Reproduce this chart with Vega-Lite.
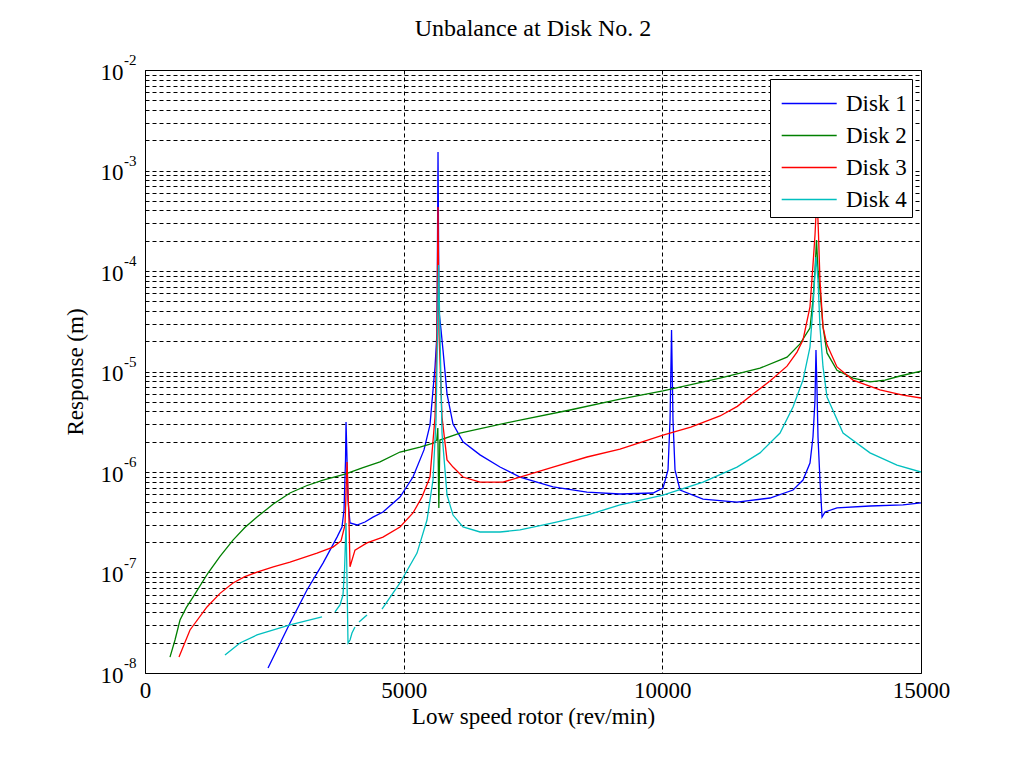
{
  "$schema": "https://vega.github.io/schema/vega-lite/v6.json",
  "width": 776,
  "height": 603,
  "autosize": {"type": "none"},
  "padding": {"left": 145, "top": 70, "right": 109, "bottom": 89},
  "background": "white",
  "title": {"text": "Unbalance at Disk No. 2", "font": "Liberation Serif", "fontSize": 24, "fontWeight": "normal", "color": "black", "anchor": "middle", "offset": 12},
  "config": {"view": {"stroke": "black", "strokeWidth": 1}, "font": "Liberation Serif"},
  "datasets": {
    "curves": [
      {"disk": "Disk 1", "seg": "1a", "rpm": 2378, "resp": 1.12e-8},
      {"disk": "Disk 1", "seg": "1a", "rpm": 2803, "resp": 3.15e-8},
      {"disk": "Disk 1", "seg": "1a", "rpm": 3131, "resp": 6.70e-8},
      {"disk": "Disk 1", "seg": "1a", "rpm": 3441, "resp": 1.24e-7},
      {"disk": "Disk 1", "seg": "1a", "rpm": 3712, "resp": 2.25e-7},
      {"disk": "Disk 1", "seg": "1a", "rpm": 3808, "resp": 2.84e-7},
      {"disk": "Disk 1", "seg": "1a", "rpm": 3847, "resp": 4.19e-7},
      {"disk": "Disk 1", "seg": "1a", "rpm": 3876, "resp": 1.32e-6},
      {"disk": "Disk 1", "seg": "1a", "rpm": 3886, "resp": 3.15e-6},
      {"disk": "Disk 1", "seg": "1a", "rpm": 3905, "resp": 1.32e-6},
      {"disk": "Disk 1", "seg": "1a", "rpm": 3924, "resp": 5.26e-7},
      {"disk": "Disk 1", "seg": "1a", "rpm": 3963, "resp": 3.11e-7},
      {"disk": "Disk 1", "seg": "1a", "rpm": 4098, "resp": 2.97e-7},
      {"disk": "Disk 1", "seg": "1a", "rpm": 4252, "resp": 3.18e-7},
      {"disk": "Disk 1", "seg": "1a", "rpm": 4407, "resp": 3.56e-7},
      {"disk": "Disk 1", "seg": "1a", "rpm": 4600, "resp": 4.00e-7},
      {"disk": "Disk 1", "seg": "1a", "rpm": 4929, "resp": 5.64e-7},
      {"disk": "Disk 1", "seg": "1a", "rpm": 5180, "resp": 8.91e-7},
      {"disk": "Disk 1", "seg": "1a", "rpm": 5393, "resp": 1.66e-6},
      {"disk": "Disk 1", "seg": "1a", "rpm": 5509, "resp": 2.94e-6},
      {"disk": "Disk 1", "seg": "1a", "rpm": 5606, "resp": 1.11e-5},
      {"disk": "Disk 1", "seg": "1a", "rpm": 5644, "resp": 2.42e-5},
      {"disk": "Disk 1", "seg": "1a", "rpm": 5664, "resp": 1.53e-3},
      {"disk": "Disk 1", "seg": "1a", "rpm": 5683, "resp": 4.0e-5},
      {"disk": "Disk 1", "seg": "1a", "rpm": 5722, "resp": 2.6e-5},
      {"disk": "Disk 1", "seg": "1a", "rpm": 5760, "resp": 1.64e-5},
      {"disk": "Disk 1", "seg": "1a", "rpm": 5838, "resp": 6.0e-6},
      {"disk": "Disk 1", "seg": "1a", "rpm": 5954, "resp": 3.0e-6},
      {"disk": "Disk 1", "seg": "1a", "rpm": 6147, "resp": 2.0e-6},
      {"disk": "Disk 1", "seg": "1a", "rpm": 6476, "resp": 1.48e-6},
      {"disk": "Disk 1", "seg": "1a", "rpm": 6862, "resp": 1.12e-6},
      {"disk": "Disk 1", "seg": "1a", "rpm": 7249, "resp": 8.91e-7},
      {"disk": "Disk 1", "seg": "1a", "rpm": 7887, "resp": 7.10e-7},
      {"disk": "Disk 1", "seg": "1a", "rpm": 8544, "resp": 6.32e-7},
      {"disk": "Disk 1", "seg": "1a", "rpm": 9182, "resp": 6.04e-7},
      {"disk": "Disk 1", "seg": "1a", "rpm": 9820, "resp": 6.18e-7},
      {"disk": "Disk 1", "seg": "1a", "rpm": 10013, "resp": 6.93e-7},
      {"disk": "Disk 1", "seg": "1a", "rpm": 10110, "resp": 1.05e-6},
      {"disk": "Disk 1", "seg": "1a", "rpm": 10149, "resp": 3.29e-6},
      {"disk": "Disk 1", "seg": "1a", "rpm": 10178, "resp": 2.59e-5},
      {"disk": "Disk 1", "seg": "1a", "rpm": 10206, "resp": 3.29e-6},
      {"disk": "Disk 1", "seg": "1a", "rpm": 10245, "resp": 1.05e-6},
      {"disk": "Disk 1", "seg": "1a", "rpm": 10342, "resp": 6.62e-7},
      {"disk": "Disk 1", "seg": "1a", "rpm": 10787, "resp": 5.38e-7},
      {"disk": "Disk 1", "seg": "1a", "rpm": 11444, "resp": 5.02e-7},
      {"disk": "Disk 1", "seg": "1a", "rpm": 12081, "resp": 5.51e-7},
      {"disk": "Disk 1", "seg": "1a", "rpm": 12526, "resp": 6.62e-7},
      {"disk": "Disk 1", "seg": "1a", "rpm": 12719, "resp": 8.32e-7},
      {"disk": "Disk 1", "seg": "1a", "rpm": 12854, "resp": 1.23e-6},
      {"disk": "Disk 1", "seg": "1a", "rpm": 12912, "resp": 2.23e-6},
      {"disk": "Disk 1", "seg": "1a", "rpm": 12951, "resp": 5.20e-6},
      {"disk": "Disk 1", "seg": "1a", "rpm": 12970, "resp": 1.64e-5},
      {"disk": "Disk 1", "seg": "1a", "rpm": 12990, "resp": 6.55e-6},
      {"disk": "Disk 1", "seg": "1a", "rpm": 13009, "resp": 2.23e-6},
      {"disk": "Disk 1", "seg": "1a", "rpm": 13047, "resp": 8.32e-7},
      {"disk": "Disk 1", "seg": "1a", "rpm": 13087, "resp": 3.56e-7},
      {"disk": "Disk 1", "seg": "1a", "rpm": 13145, "resp": 4.00e-7},
      {"disk": "Disk 1", "seg": "1a", "rpm": 13376, "resp": 4.39e-7},
      {"disk": "Disk 1", "seg": "1a", "rpm": 14014, "resp": 4.59e-7},
      {"disk": "Disk 1", "seg": "1a", "rpm": 14652, "resp": 4.70e-7},
      {"disk": "Disk 1", "seg": "1a", "rpm": 15000, "resp": 4.92e-7},

      {"disk": "Disk 2", "seg": "2a", "rpm": 483, "resp": 1.44e-8},
      {"disk": "Disk 2", "seg": "2a", "rpm": 580, "resp": 2.13e-8},
      {"disk": "Disk 2", "seg": "2a", "rpm": 677, "resp": 3.37e-8},
      {"disk": "Disk 2", "seg": "2a", "rpm": 800, "resp": 4.5e-8},
      {"disk": "Disk 2", "seg": "2a", "rpm": 928, "resp": 5.70e-8},
      {"disk": "Disk 2", "seg": "2a", "rpm": 1218, "resp": 9.88e-8},
      {"disk": "Disk 2", "seg": "2a", "rpm": 1450, "resp": 1.45e-7},
      {"disk": "Disk 2", "seg": "2a", "rpm": 1701, "resp": 2.10e-7},
      {"disk": "Disk 2", "seg": "2a", "rpm": 1930, "resp": 2.8e-7},
      {"disk": "Disk 2", "seg": "2a", "rpm": 2165, "resp": 3.56e-7},
      {"disk": "Disk 2", "seg": "2a", "rpm": 2480, "resp": 4.8e-7},
      {"disk": "Disk 2", "seg": "2a", "rpm": 2803, "resp": 6.18e-7},
      {"disk": "Disk 2", "seg": "2a", "rpm": 3120, "resp": 7.3e-7},
      {"disk": "Disk 2", "seg": "2a", "rpm": 3441, "resp": 8.32e-7},
      {"disk": "Disk 2", "seg": "2a", "rpm": 3866, "resp": 9.55e-7},
      {"disk": "Disk 2", "seg": "2a", "rpm": 4200, "resp": 1.1e-6},
      {"disk": "Disk 2", "seg": "2a", "rpm": 4543, "resp": 1.26e-6},
      {"disk": "Disk 2", "seg": "2a", "rpm": 4929, "resp": 1.58e-6},
      {"disk": "Disk 2", "seg": "2a", "rpm": 5316, "resp": 1.77e-6},
      {"disk": "Disk 2", "seg": "2a", "rpm": 5586, "resp": 1.95e-6},
      {"disk": "Disk 2", "seg": "2a", "rpm": 5640, "resp": 2.08e-6},
      {"disk": "Disk 2", "seg": "2a", "rpm": 5660, "resp": 2.74e-6},
      {"disk": "Disk 2", "seg": "2a", "rpm": 5680, "resp": 4.39e-7},
      {"disk": "Disk 2", "seg": "2a", "rpm": 5700, "resp": 2.08e-6},
      {"disk": "Disk 2", "seg": "2a", "rpm": 6089, "resp": 2.44e-6},
      {"disk": "Disk 2", "seg": "2a", "rpm": 7249, "resp": 3.29e-6},
      {"disk": "Disk 2", "seg": "2a", "rpm": 8215, "resp": 4.14e-6},
      {"disk": "Disk 2", "seg": "2a", "rpm": 9182, "resp": 5.32e-6},
      {"disk": "Disk 2", "seg": "2a", "rpm": 10013, "resp": 6.40e-6},
      {"disk": "Disk 2", "seg": "2a", "rpm": 11115, "resp": 8.61e-6},
      {"disk": "Disk 2", "seg": "2a", "rpm": 11888, "resp": 1.08e-5},
      {"disk": "Disk 2", "seg": "2a", "rpm": 12410, "resp": 1.39e-5},
      {"disk": "Disk 2", "seg": "2a", "rpm": 12661, "resp": 1.88e-5},
      {"disk": "Disk 2", "seg": "2a", "rpm": 12854, "resp": 2.71e-5},
      {"disk": "Disk 2", "seg": "2a", "rpm": 12912, "resp": 5.14e-5},
      {"disk": "Disk 2", "seg": "2a", "rpm": 12951, "resp": 1.02e-4},
      {"disk": "Disk 2", "seg": "2a", "rpm": 12980, "resp": 2.03e-4},
      {"disk": "Disk 2", "seg": "2a", "rpm": 13009, "resp": 1.02e-4},
      {"disk": "Disk 2", "seg": "2a", "rpm": 13047, "resp": 6.47e-5},
      {"disk": "Disk 2", "seg": "2a", "rpm": 13106, "resp": 2.77e-5},
      {"disk": "Disk 2", "seg": "2a", "rpm": 13183, "resp": 1.53e-5},
      {"disk": "Disk 2", "seg": "2a", "rpm": 13376, "resp": 1.03e-5},
      {"disk": "Disk 2", "seg": "2a", "rpm": 13686, "resp": 8.61e-6},
      {"disk": "Disk 2", "seg": "2a", "rpm": 14014, "resp": 7.87e-6},
      {"disk": "Disk 2", "seg": "2a", "rpm": 14304, "resp": 8.22e-6},
      {"disk": "Disk 2", "seg": "2a", "rpm": 14594, "resp": 9.02e-6},
      {"disk": "Disk 2", "seg": "2a", "rpm": 15000, "resp": 1.01e-5},

      {"disk": "Disk 3", "seg": "3a", "rpm": 657, "resp": 1.44e-8},
      {"disk": "Disk 3", "seg": "3a", "rpm": 870, "resp": 2.68e-8},
      {"disk": "Disk 3", "seg": "3a", "rpm": 1198, "resp": 4.54e-8},
      {"disk": "Disk 3", "seg": "3a", "rpm": 1450, "resp": 6.2e-8},
      {"disk": "Disk 3", "seg": "3a", "rpm": 1701, "resp": 7.87e-8},
      {"disk": "Disk 3", "seg": "3a", "rpm": 1930, "resp": 9.1e-8},
      {"disk": "Disk 3", "seg": "3a", "rpm": 2165, "resp": 1.01e-7},
      {"disk": "Disk 3", "seg": "3a", "rpm": 2480, "resp": 1.14e-7},
      {"disk": "Disk 3", "seg": "3a", "rpm": 2803, "resp": 1.27e-7},
      {"disk": "Disk 3", "seg": "3a", "rpm": 3325, "resp": 1.56e-7},
      {"disk": "Disk 3", "seg": "3a", "rpm": 3634, "resp": 1.79e-7},
      {"disk": "Disk 3", "seg": "3a", "rpm": 3789, "resp": 2.06e-7},
      {"disk": "Disk 3", "seg": "3a", "rpm": 3866, "resp": 2.97e-7},
      {"disk": "Disk 3", "seg": "3a", "rpm": 3905, "resp": 1.26e-6},
      {"disk": "Disk 3", "seg": "3a", "rpm": 3943, "resp": 3.33e-7},
      {"disk": "Disk 3", "seg": "3a", "rpm": 3963, "resp": 1.14e-7},
      {"disk": "Disk 3", "seg": "3a", "rpm": 4059, "resp": 1.67e-7},
      {"disk": "Disk 3", "seg": "3a", "rpm": 4291, "resp": 1.97e-7},
      {"disk": "Disk 3", "seg": "3a", "rpm": 4600, "resp": 2.25e-7},
      {"disk": "Disk 3", "seg": "3a", "rpm": 4929, "resp": 2.84e-7},
      {"disk": "Disk 3", "seg": "3a", "rpm": 5180, "resp": 3.91e-7},
      {"disk": "Disk 3", "seg": "3a", "rpm": 5354, "resp": 5.64e-7},
      {"disk": "Disk 3", "seg": "3a", "rpm": 5509, "resp": 8.91e-7},
      {"disk": "Disk 3", "seg": "3a", "rpm": 5606, "resp": 3.52e-6},
      {"disk": "Disk 3", "seg": "3a", "rpm": 5644, "resp": 2.42e-5},
      {"disk": "Disk 3", "seg": "3a", "rpm": 5664, "resp": 4.33e-4},
      {"disk": "Disk 3", "seg": "3a", "rpm": 5683, "resp": 2.42e-5},
      {"disk": "Disk 3", "seg": "3a", "rpm": 5741, "resp": 3.52e-6},
      {"disk": "Disk 3", "seg": "3a", "rpm": 5838, "resp": 1.32e-6},
      {"disk": "Disk 3", "seg": "3a", "rpm": 5954, "resp": 1.12e-6},
      {"disk": "Disk 3", "seg": "3a", "rpm": 6147, "resp": 8.91e-7},
      {"disk": "Disk 3", "seg": "3a", "rpm": 6476, "resp": 7.94e-7},
      {"disk": "Disk 3", "seg": "3a", "rpm": 6920, "resp": 7.94e-7},
      {"disk": "Disk 3", "seg": "3a", "rpm": 7249, "resp": 8.91e-7},
      {"disk": "Disk 3", "seg": "3a", "rpm": 7887, "resp": 1.12e-6},
      {"disk": "Disk 3", "seg": "3a", "rpm": 8544, "resp": 1.41e-6},
      {"disk": "Disk 3", "seg": "3a", "rpm": 9182, "resp": 1.69e-6},
      {"disk": "Disk 3", "seg": "3a", "rpm": 10013, "resp": 2.33e-6},
      {"disk": "Disk 3", "seg": "3a", "rpm": 10550, "resp": 2.8e-6},
      {"disk": "Disk 3", "seg": "3a", "rpm": 11115, "resp": 3.61e-6},
      {"disk": "Disk 3", "seg": "3a", "rpm": 11450, "resp": 4.5e-6},
      {"disk": "Disk 3", "seg": "3a", "rpm": 11753, "resp": 5.97e-6},
      {"disk": "Disk 3", "seg": "3a", "rpm": 12081, "resp": 8.04e-6},
      {"disk": "Disk 3", "seg": "3a", "rpm": 12410, "resp": 1.13e-5},
      {"disk": "Disk 3", "seg": "3a", "rpm": 12603, "resp": 1.56e-5},
      {"disk": "Disk 3", "seg": "3a", "rpm": 12719, "resp": 2.06e-5},
      {"disk": "Disk 3", "seg": "3a", "rpm": 12854, "resp": 4.39e-5},
      {"disk": "Disk 3", "seg": "3a", "rpm": 12912, "resp": 1.15e-4},
      {"disk": "Disk 3", "seg": "3a", "rpm": 12951, "resp": 2.28e-4},
      {"disk": "Disk 3", "seg": "3a", "rpm": 12990, "resp": 5.70e-4},
      {"disk": "Disk 3", "seg": "3a", "rpm": 13019, "resp": 2.28e-4},
      {"disk": "Disk 3", "seg": "3a", "rpm": 13047, "resp": 8.13e-5},
      {"disk": "Disk 3", "seg": "3a", "rpm": 13106, "resp": 2.77e-5},
      {"disk": "Disk 3", "seg": "3a", "rpm": 13183, "resp": 1.84e-5},
      {"disk": "Disk 3", "seg": "3a", "rpm": 13376, "resp": 1.11e-5},
      {"disk": "Disk 3", "seg": "3a", "rpm": 13686, "resp": 8.22e-6},
      {"disk": "Disk 3", "seg": "3a", "rpm": 14207, "resp": 6.55e-6},
      {"disk": "Disk 3", "seg": "3a", "rpm": 14652, "resp": 5.83e-6},
      {"disk": "Disk 3", "seg": "3a", "rpm": 15000, "resp": 5.45e-6},

      {"disk": "Disk 4", "seg": "4a", "rpm": 1546, "resp": 1.51e-8},
      {"disk": "Disk 4", "seg": "4a", "rpm": 1836, "resp": 1.99e-8},
      {"disk": "Disk 4", "seg": "4a", "rpm": 2165, "resp": 2.39e-8},
      {"disk": "Disk 4", "seg": "4a", "rpm": 2803, "resp": 3.01e-8},
      {"disk": "Disk 4", "seg": "4a", "rpm": 3422, "resp": 3.61e-8},
      {"disk": "Disk 4", "seg": "4b", "rpm": 3673, "resp": 4.05e-8},
      {"disk": "Disk 4", "seg": "4b", "rpm": 3769, "resp": 4.75e-8},
      {"disk": "Disk 4", "seg": "4b", "rpm": 3827, "resp": 5.97e-8},
      {"disk": "Disk 4", "seg": "4b", "rpm": 3857, "resp": 1.06e-7},
      {"disk": "Disk 4", "seg": "4b", "rpm": 3886, "resp": 3.11e-7},
      {"disk": "Disk 4", "seg": "4b", "rpm": 3905, "resp": 8.41e-8},
      {"disk": "Disk 4", "seg": "4b", "rpm": 3924, "resp": 1.99e-8},
      {"disk": "Disk 4", "seg": "4b", "rpm": 3963, "resp": 2.13e-8},
      {"disk": "Disk 4", "seg": "4b", "rpm": 4001, "resp": 2.50e-8},
      {"disk": "Disk 4", "seg": "4b", "rpm": 4059, "resp": 2.87e-8},
      {"disk": "Disk 4", "seg": "4c", "rpm": 4137, "resp": 3.21e-8},
      {"disk": "Disk 4", "seg": "4c", "rpm": 4291, "resp": 3.78e-8},
      {"disk": "Disk 4", "seg": "4d", "rpm": 4581, "resp": 4.33e-8},
      {"disk": "Disk 4", "seg": "4d", "rpm": 4929, "resp": 7.87e-8},
      {"disk": "Disk 4", "seg": "4d", "rpm": 5258, "resp": 1.56e-7},
      {"disk": "Disk 4", "seg": "4d", "rpm": 5451, "resp": 3.33e-7},
      {"disk": "Disk 4", "seg": "4d", "rpm": 5567, "resp": 8.32e-7},
      {"disk": "Disk 4", "seg": "4d", "rpm": 5625, "resp": 3.29e-6},
      {"disk": "Disk 4", "seg": "4d", "rpm": 5654, "resp": 2.42e-5},
      {"disk": "Disk 4", "seg": "4d", "rpm": 5674, "resp": 1.15e-4},
      {"disk": "Disk 4", "seg": "4d", "rpm": 5702, "resp": 2.42e-5},
      {"disk": "Disk 4", "seg": "4d", "rpm": 5741, "resp": 2.44e-6},
      {"disk": "Disk 4", "seg": "4d", "rpm": 5838, "resp": 5.90e-7},
      {"disk": "Disk 4", "seg": "4d", "rpm": 5954, "resp": 3.73e-7},
      {"disk": "Disk 4", "seg": "4d", "rpm": 6147, "resp": 2.84e-7},
      {"disk": "Disk 4", "seg": "4d", "rpm": 6476, "resp": 2.53e-7},
      {"disk": "Disk 4", "seg": "4d", "rpm": 6862, "resp": 2.53e-7},
      {"disk": "Disk 4", "seg": "4d", "rpm": 7249, "resp": 2.65e-7},
      {"disk": "Disk 4", "seg": "4d", "rpm": 7887, "resp": 3.11e-7},
      {"disk": "Disk 4", "seg": "4d", "rpm": 8544, "resp": 3.73e-7},
      {"disk": "Disk 4", "seg": "4d", "rpm": 9182, "resp": 4.70e-7},
      {"disk": "Disk 4", "seg": "4d", "rpm": 10013, "resp": 5.90e-7},
      {"disk": "Disk 4", "seg": "4d", "rpm": 10787, "resp": 7.94e-7},
      {"disk": "Disk 4", "seg": "4d", "rpm": 11444, "resp": 1.12e-6},
      {"disk": "Disk 4", "seg": "4d", "rpm": 11888, "resp": 1.55e-6},
      {"disk": "Disk 4", "seg": "4d", "rpm": 12275, "resp": 2.44e-6},
      {"disk": "Disk 4", "seg": "4d", "rpm": 12526, "resp": 4.44e-6},
      {"disk": "Disk 4", "seg": "4d", "rpm": 12719, "resp": 8.22e-6},
      {"disk": "Disk 4", "seg": "4d", "rpm": 12854, "resp": 1.75e-5},
      {"disk": "Disk 4", "seg": "4d", "rpm": 12912, "resp": 4.39e-5},
      {"disk": "Disk 4", "seg": "4d", "rpm": 12970, "resp": 1.38e-4},
      {"disk": "Disk 4", "seg": "4d", "rpm": 13009, "resp": 8.13e-5},
      {"disk": "Disk 4", "seg": "4d", "rpm": 13047, "resp": 2.77e-5},
      {"disk": "Disk 4", "seg": "4d", "rpm": 13106, "resp": 1.11e-5},
      {"disk": "Disk 4", "seg": "4d", "rpm": 13183, "resp": 5.57e-6},
      {"disk": "Disk 4", "seg": "4d", "rpm": 13493, "resp": 2.44e-6},
      {"disk": "Disk 4", "seg": "4d", "rpm": 14014, "resp": 1.55e-6},
      {"disk": "Disk 4", "seg": "4d", "rpm": 14536, "resp": 1.17e-6},
      {"disk": "Disk 4", "seg": "4d", "rpm": 15000, "resp": 1.0e-6}
    ],
    "exps": [
      {"v": 1e-2, "e": "-2"},
      {"v": 1e-3, "e": "-3"},
      {"v": 1e-4, "e": "-4"},
      {"v": 1e-5, "e": "-5"},
      {"v": 1e-6, "e": "-6"},
      {"v": 1e-7, "e": "-7"},
      {"v": 1e-8, "e": "-8"}
    ]
  },
  "layer": [
    {
      "data": {"name": "curves"},
      "mark": {"type": "line", "strokeWidth": 1.3, "clip": true},
      "encoding": {
        "x": {
          "field": "rpm", "type": "quantitative",
          "scale": {"domain": [0, 15000], "nice": false, "zero": false},
          "axis": {
            "title": "Low speed rotor (rev/min)",
            "values": [0, 5000, 10000, 15000],
            "format": "d",
            "grid": true, "gridDash": [4, 3], "gridColor": "#000000", "gridWidth": 1, "gridOpacity": 1,
            "ticks": false, "domain": false, "labelFlush": false, "labelOverlap": false,
            "labelFont": "Liberation Serif", "labelFontSize": 23, "labelColor": "black", "labelPadding": 6,
            "titleFont": "Liberation Serif", "titleFontSize": 23, "titleFontWeight": "normal", "titleColor": "black", "titlePadding": 3
          }
        },
        "y": {
          "field": "resp", "type": "quantitative",
          "scale": {"type": "log", "domain": [1e-8, 1e-2], "nice": false},
          "axis": {
            "title": "Response (m)",
            "values": [1e-8, 2e-8, 3e-8, 4e-8, 5e-8, 6e-8, 7e-8, 8e-8, 9e-8, 1e-7, 2e-7, 3e-7, 4e-7, 5e-7, 6e-7, 7e-7, 8e-7, 9e-7, 1e-6, 2e-6, 3e-6, 4e-6, 5e-6, 6e-6, 7e-6, 8e-6, 9e-6, 1e-5, 2e-5, 3e-5, 4e-5, 5e-5, 6e-5, 7e-5, 8e-5, 9e-5, 1e-4, 2e-4, 3e-4, 4e-4, 5e-4, 6e-4, 7e-4, 8e-4, 9e-4, 1e-3, 2e-3, 3e-3, 4e-3, 5e-3, 6e-3, 7e-3, 8e-3, 9e-3, 1e-2],
            "labelExpr": "abs(log(datum.value)/LN10 - round(log(datum.value)/LN10)) < 0.01 ? '10' : ''",
            "grid": true, "gridDash": [4, 3], "gridColor": "#000000", "gridWidth": 1, "gridOpacity": 1,
            "ticks": false, "domain": false, "labelOverlap": false, "labelFlush": false, "labelBound": false,
            "labelFont": "Liberation Serif", "labelFontSize": 23, "labelColor": "black", "labelPadding": 22, "labelBaseline": "middle", "labelOffset": 2,
            "titleFont": "Liberation Serif", "titleFontSize": 23, "titleFontWeight": "normal", "titleColor": "black", "titlePadding": 13
          }
        },
        "color": {
          "field": "disk", "type": "nominal",
          "scale": {"domain": ["Disk 1", "Disk 2", "Disk 3", "Disk 4"], "range": ["#0000ff", "#008000", "#ff0000", "#00bfbf"]},
          "legend": {
            "title": null, "orient": "top-right", "offset": 9,
            "strokeColor": "black", "fillColor": "white", "padding": 5,
            "symbolType": "M-0.68,0H2.24", "symbolSize": 1420, "symbolStrokeWidth": 1.3,
            "labelFont": "Liberation Serif", "labelFontSize": 23, "labelColor": "black", "labelOffset": 32, "rowPadding": 0, "labelLimit": 300
          }
        },
        "detail": {"field": "seg", "type": "nominal"}
      }
    },
    {
      "data": {"name": "exps"},
      "mark": {"type": "text", "align": "left", "baseline": "middle", "dx": -21, "dy": -10, "fontSize": 15, "font": "Liberation Serif", "color": "black"},
      "encoding": {
        "x": {"datum": 0, "type": "quantitative"},
        "y": {"field": "v", "type": "quantitative", "title": "Response (m)"},
        "text": {"field": "e", "type": "nominal"}
      }
    }
  ]
}
